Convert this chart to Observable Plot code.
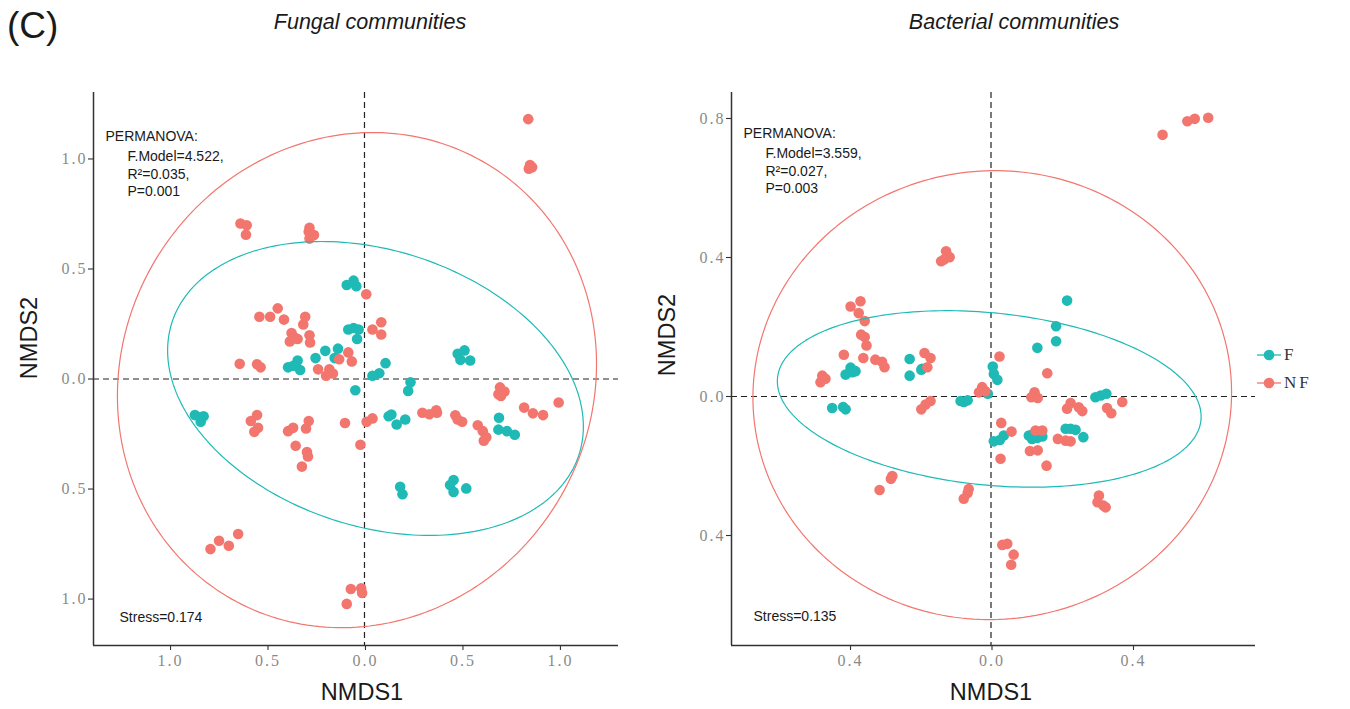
<!DOCTYPE html>
<html><head><meta charset="utf-8">
<script src="https://cdn.jsdelivr.net/npm/d3@7"></script>
<script src="https://cdn.jsdelivr.net/npm/@observablehq/plot@0.6"></script>
<style>
body{margin:0;background:#fff;}
#wrap{position:relative;width:1350px;height:709px;overflow:hidden;font-family:"Liberation Sans",Arial,sans-serif;color:#1a1a1a;}
.abs{position:absolute;white-space:nowrap;line-height:1;}
.c{transform:translate(-50%,-50%);}
.rot{transform:translate(-50%,-50%) rotate(-90deg);}
svg.panel{position:absolute;top:0;}
svg.panel g[aria-label="x-axis tick label"] text{letter-spacing:2px;}
svg.panel g[aria-label="y-axis tick label"] text{letter-spacing:2px;}
</style></head><body><div id="wrap"></div>
<script>
// ---------- data ----------
const groups = ["F", "NF"];
const groupColours = ["#1fbab5", "#f2766e"];
const legendLabels = ["F", "NF"];

const fungalXTicks = [-1, -0.5, 0, 0.5, 1];
const fungalYTicks = [-1, -0.5, 0, 0.5, 1];
const bacterialXTicks = [-0.4, 0, 0.4];
const bacterialYTicks = [-0.4, 0, 0.4, 0.8];

const fungalF = [
 [-0.091,0.427],[-0.056,0.447],[-0.042,0.422],
 [-0.083,0.225],[-0.056,0.232],[-0.030,0.225],[-0.038,0.182],
 [-0.201,0.128],[-0.136,0.138],[-0.251,0.095],[-0.153,0.095],
 [-0.343,0.084],[-0.392,0.053],[-0.330,0.041],[-0.365,0.060],
 [0.108,0.072],[0.076,0.026],[0.041,0.015],
 [0.478,0.115],[0.513,0.130],[0.492,0.087],[0.542,0.084],
 [-0.047,-0.051],[0.236,-0.015],[0.224,-0.054],
 [-0.870,-0.164],[-0.838,-0.173],[-0.825,-0.169],[-0.840,-0.194],
 [0.124,-0.169],[0.138,-0.161],[0.165,-0.207],[0.209,-0.184],
 [0.690,-0.176],[0.687,-0.230],[0.731,-0.237],[0.771,-0.253],
 [0.183,-0.490],[0.195,-0.524],
 [0.457,-0.459],[0.439,-0.482],[0.457,-0.513],[0.522,-0.497]
];
const fungalNF = [
 [0.840,1.181],[0.849,0.972],[0.860,0.962],[0.843,0.956],
 [-0.636,0.707],[-0.604,0.699],[-0.608,0.656],
 [-0.282,0.687],[-0.286,0.669],[-0.259,0.654],[-0.282,0.638],
 [0.009,0.385],
 [-0.539,0.283],[-0.484,0.283],[-0.445,0.321],[-0.413,0.270],[-0.304,0.283],[-0.314,0.248],
 [-0.374,0.209],[-0.353,0.186],[-0.383,0.171],[-0.343,0.182],[-0.282,0.199],[-0.279,0.166],
 [0.086,0.258],[0.041,0.225],[0.086,0.202],
 [-0.083,0.121],[-0.130,0.090],[-0.065,0.080],
 [-0.640,0.069],[-0.551,0.067],[-0.533,0.053],[-0.238,0.044],[-0.180,0.044],[-0.180,0.030],[-0.197,0.015],[-0.162,0.025],
 [0.695,-0.038],[0.687,-0.069],[0.718,-0.057],[0.700,-0.077],
 [0.996,-0.107],[0.819,-0.130],[0.864,-0.156],[0.916,-0.164],
 [0.581,-0.210],[0.607,-0.237],[0.625,-0.265],[0.612,-0.280],
 [0.466,-0.165],[0.478,-0.184],[0.501,-0.194],
 [0.297,-0.153],[0.333,-0.160],[0.368,-0.142],[0.372,-0.153],
 [0.041,-0.179],[0.011,-0.194],[-0.100,-0.200],[-0.021,-0.299],
 [-0.551,-0.164],[-0.583,-0.191],[-0.546,-0.222],[-0.565,-0.240],
 [-0.366,-0.222],[-0.392,-0.237],[-0.286,-0.191],[-0.300,-0.225],
 [-0.353,-0.303],[-0.295,-0.332],[-0.290,-0.352],[-0.321,-0.398],
 [-0.648,-0.704],[-0.746,-0.735],[-0.696,-0.758],[-0.790,-0.773],
 [-0.070,-0.954],[-0.017,-0.951],[-0.012,-0.972],[-0.091,-1.022]
];
const bacterialF = [
 [0.215,0.276],[0.184,0.202],[0.184,0.159],[0.131,0.140],
 [-0.230,0.108],[-0.195,0.080],[0.005,0.086],
 [-0.397,0.083],[-0.411,0.063],[-0.383,0.073],[-0.392,0.070],
 [-0.230,0.060],[-0.197,0.077],
 [0.008,0.065],[0.018,0.048],[-0.009,0.008],
 [-0.086,-0.013],[-0.077,-0.016],[-0.066,-0.011],
 [-0.449,-0.033],[-0.418,-0.030],[-0.411,-0.037],
 [0.295,-0.002],[0.310,0.003],[0.326,0.008],
 [0.008,-0.129],[0.025,-0.125],[0.036,-0.112],
 [0.107,-0.112],[0.116,-0.122],[0.131,-0.119],[0.145,-0.115],[0.120,-0.107],
 [0.211,-0.093],[0.225,-0.093],[0.239,-0.096],[0.261,-0.117]
];
const bacterialNF = [
 [0.614,0.802],[0.576,0.799],[0.555,0.792],[0.485,0.753],
 [-0.127,0.418],[-0.117,0.401],[-0.141,0.389],[-0.133,0.394],
 [-0.369,0.274],[-0.397,0.259],[-0.374,0.240],[-0.357,0.217],[-0.367,0.178],[-0.357,0.171],[-0.352,0.147],
 [-0.416,0.120],[-0.361,0.111],[-0.327,0.106],[-0.308,0.100],[-0.301,0.084],
 [-0.188,0.125],[-0.171,0.111],[-0.180,0.084],
 [0.024,0.115],[0.159,0.067],
 [-0.477,0.060],[-0.468,0.051],[-0.482,0.041],
 [-0.025,0.027],[-0.034,0.012],[-0.016,0.015],
 [-0.171,-0.013],[-0.185,-0.023],[-0.197,-0.037],
 [0.123,0.012],[0.114,-0.002],[0.132,-0.004],
 [0.225,-0.019],[0.215,-0.035],[0.248,-0.031],[0.258,-0.042],
 [0.328,-0.033],[0.340,-0.048],[0.371,-0.016],
 [0.029,-0.076],[0.058,-0.101],[0.126,-0.098],[0.145,-0.098],
 [0.110,-0.157],[0.132,-0.155],[0.027,-0.179],[0.157,-0.199],
 [0.189,-0.122],[0.211,-0.127],[0.225,-0.129],
 [-0.279,-0.229],[-0.283,-0.237],[-0.315,-0.269],
 [-0.063,-0.266],[-0.066,-0.278],[-0.077,-0.294],
 [0.305,-0.285],[0.301,-0.304],[0.324,-0.319],[0.318,-0.314],
 [0.032,-0.427],[0.046,-0.424],[0.064,-0.455],[0.057,-0.484]
];
// 95% ellipses: centre and covariance-like shape (group, cx, cy, sxx, syy, sxy)
const fungalEllipses = [
 ["F", 0.0565, -0.043, 1.137, 0.446, -0.184],
 ["NF", -0.0385, -0.005, 1.51, 1.266, 0.089]
];
const bacterialEllipses = [
 ["F", -0.005, -0.007, 0.3588, 0.0645, -0.0305],
 ["NF", 0.0035, 0.004, 0.4577, 0.4173, 0.005]
];
const fungalStats = ["PERMANOVA:", ["F.Model=4.522,", "R\u00b2=0.035,", "P=0.001"], "Stress=0.174"];
const bacterialStats = ["PERMANOVA:", ["F.Model=3.559,", "R\u00b2=0.027,", "P=0.003"], "Stress=0.135"];

// ---------- helpers ----------
function toRows(F, NF) {
  return [...F.map(([x, y]) => ({group: "F", x, y})), ...NF.map(([x, y]) => ({group: "NF", x, y}))];
}
function ellipseRows(list) {
  const out = [];
  for (const [group, cx, cy, sxx, syy, sxy] of list) {
    const a = Math.sqrt(sxx), b = sxy / a, c = Math.sqrt(syy - b * b);
    const n = 240;
    for (let i = 0; i <= n; i++) {
      const t = 2 * Math.PI * i / n;
      out.push({group, x: cx + a * Math.cos(t), y: cy + b * Math.cos(t) + c * Math.sin(t)});
    }
  }
  return out;
}
const fmt = d => Math.abs(d).toFixed(1);

function panel({rows, ells, xDomain, yDomain, xTicks, yTicks, stats, width, marginLeft, marginRight, statDx, statDy, stressDx, stressDy}) {
  const axisStyle = {tickSize: 5, tickPadding: 4, fontSize: 16, fontFamily: "Liberation Serif, serif",
    fill: "#8a8a8a", stroke: "#333", strokeWidth: 1.1, tickFormat: fmt, label: null};
  return Plot.plot({
    width, height: 709,
    marginLeft, marginRight, marginTop: 92, marginBottom: 64,
    x: {domain: xDomain}, y: {domain: yDomain},
    color: {domain: groups, range: groupColours},
    style: {background: "transparent", overflow: "visible"},
    marks: [
      Plot.ruleX([0], {stroke: "#222", strokeWidth: 1.2, strokeDasharray: "6,4"}),
      Plot.ruleY([0], {stroke: "#222", strokeWidth: 1.2, strokeDasharray: "6,4"}),
      Plot.dot(rows, {x: "x", y: "y", fill: "group", r: 5.3}),
      Plot.line(ells, {x: "x", y: "y", z: "group", stroke: "group", strokeWidth: 1.2}),
      Plot.ruleX([xDomain[0]], {stroke: "#333", strokeWidth: 1.5}),
      Plot.ruleY([yDomain[0]], {stroke: "#333", strokeWidth: 1.5}),
      Plot.axisX({...axisStyle, ticks: xTicks, dx: 1}),
      Plot.axisY({...axisStyle, ticks: yTicks, tickPadding: 1}),
      Plot.text([stats[0]], {text: d => d, frameAnchor: "top-left", dx: statDx, dy: statDy, textAnchor: "start",
        lineAnchor: "middle", fontSize: 14, fontFamily: "Liberation Sans, Arial, sans-serif", fill: "#1a1a1a"}),
      Plot.text([stats[1].join("\n")], {text: d => d, frameAnchor: "top-left", dx: statDx + 22, dy: statDy + 36.5,
        textAnchor: "start", lineAnchor: "middle", lineHeight: 1.25, fontSize: 14,
        fontFamily: "Liberation Sans, Arial, sans-serif", fill: "#1a1a1a"}),
      Plot.text([stats[2]], {text: d => d, frameAnchor: "bottom-left", dx: stressDx, dy: stressDy, textAnchor: "start",
        lineAnchor: "middle", fontSize: 14, fontFamily: "Liberation Sans, Arial, sans-serif", fill: "#1a1a1a"})
    ]
  });
}

const wrap = document.getElementById("wrap");
const left = panel({rows: toRows(fungalF, fungalNF), ells: ellipseRows(fungalEllipses),
  xDomain: [-1.39, 1.303], yDomain: [-1.211, 1.302], xTicks: fungalXTicks, yTicks: fungalYTicks, stats: fungalStats,
  width: 680, marginLeft: 93, marginRight: 62, statDx: 12, statDy: 44, stressDx: 26, stressDy: -28});
left.classList.add("panel"); left.style.left = "0px";
wrap.appendChild(left);

const right = panel({rows: toRows(bacterialF, bacterialNF), ells: ellipseRows(bacterialEllipses),
  xDomain: [-0.7336, 0.7477], yDomain: [-0.7165, 0.8748], xTicks: bacterialXTicks, yTicks: bacterialYTicks, stats: bacterialStats,
  width: 670, marginLeft: 51, marginRight: 95, statDx: 12, statDy: 41, stressDx: 22, stressDy: -29});
right.classList.add("panel"); right.style.left = "680px";
wrap.appendChild(right);

// ---------- text overlays ----------
function addText(txt, x, y, cls, style) {
  const d = document.createElement("div");
  d.className = "abs " + cls;
  d.textContent = txt;
  d.style.left = x + "px"; d.style.top = y + "px";
  Object.assign(d.style, style || {});
  wrap.appendChild(d);
  return d;
}
addText("(C)", 7, 7, "", {fontSize: "37px"});
addText("Fungal communities", 370, 23, "c", {fontSize: "21.5px", fontStyle: "italic"});
addText("Bacterial communities", 1014, 23, "c", {fontSize: "21.5px", fontStyle: "italic"});
addText("NMDS1", 362, 693, "c", {fontSize: "23.5px"});
addText("NMDS1", 991, 693, "c", {fontSize: "23.5px"});
addText("NMDS2", 30, 338, "rot", {fontSize: "23.5px"});
addText("NMDS2", 668, 335, "rot", {fontSize: "23.5px"});

// legend
legendLabels.forEach((lab, i) => {
  const y = 355 + i * 28;
  const s = document.createElementNS("http://www.w3.org/2000/svg", "svg");
  s.setAttribute("width", 26); s.setAttribute("height", 14);
  s.style.position = "absolute"; s.style.left = "1256px"; s.style.top = (y - 7) + "px";
  s.innerHTML = `<line x1="1" x2="25" y1="7" y2="7" stroke="${groupColours[i]}" stroke-width="1.3"/>` +
    `<circle cx="13" cy="7" r="5.3" fill="${groupColours[i]}"/>`;
  wrap.appendChild(s);
  addText(lab, 1284, y - 9, "", {fontSize: "17px", fontFamily: "Liberation Serif, serif", color: "#333", letterSpacing: "3px"});
});
</script></body></html>
